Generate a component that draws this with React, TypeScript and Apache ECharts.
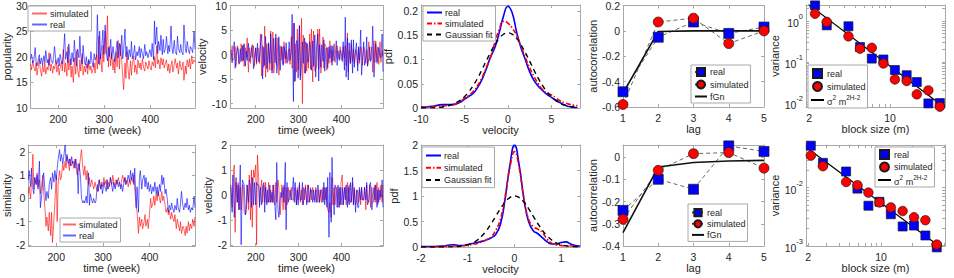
import React, { useEffect, useRef } from 'react';
import * as echarts from 'echarts';

// ---------------- data ----------------
// week of each sample (151 samples spanning weeks 140..497)
const weeks: number[] = [];
for (let i = 0; i <= 150; i++) weeks.push(Math.round(140 + i * 2.38));

const popReal = [19.5,20.5,18.8,19.2,21.8,19.0,18.2,19.6,20.4,18.6,
 19.8,18.4,20.2,19.0,21.2,18.8,19.5,18.3,20.6,19.2,
 18.7,20.0,22.0,19.1,18.5,19.8,18.2,20.5,19.0,18.6,
 20.4,24.5,19.5,21.0,18.8,22.5,19.6,18.4,20.8,19.0,
 23.2,19.4,18.2,21.5,19.8,24.0,20.2,18.6,22.2,19.0,
 18.4,20.0,17.8,19.5,18.6,21.0,19.2,18.0,20.6,19.4,
 20.0,28.2,18.6,25.0,19.6,22.4,25.2,20.4,26.2,21.0,
 19.2,21.8,20.0,23.4,19.6,22.0,20.4,19.0,21.6,23.0,
 19.8,22.6,20.2,24.2,19.6,21.2,25.4,20.0,22.0,19.4,
 21.4,20.0,23.0,19.6,20.8,22.2,19.4,21.0,20.2,22.0,
 19.8,21.6,20.4,19.6,22.4,20.2,21.0,19.8,20.6,21.4,
 20.0,22.6,19.4,27.0,22.4,25.8,20.6,23.0,21.2,24.2,
 20.4,23.4,20.8,21.6,24.0,20.6,22.2,21.0,26.0,21.8,
 20.6,23.2,21.0,20.4,24.0,21.6,20.8,22.4,21.0,20.4,
 26.2,21.6,20.8,23.0,21.2,20.6,22.0,21.4,20.8,25.0,
 21.5];

const popSim = [18.6,17.4,19.2,18.0,17.2,18.8,16.4,18.2,19.6,17.6,
 16.2,18.4,17.0,19.0,16.6,18.0,17.4,20.8,17.2,18.6,
 16.8,18.2,17.6,19.4,17.0,18.4,16.4,17.8,19.0,17.2,
 21.4,17.0,18.8,16.2,22.0,17.4,19.6,16.0,18.2,15.0,
 19.8,16.6,21.2,17.4,16.0,19.4,17.2,20.6,16.4,18.2,
 17.0,18.6,16.6,19.2,17.4,18.2,16.8,17.6,18.8,16.8,
 20.4,17.6,24.0,18.4,20.6,17.0,22.2,19.0,25.0,20.6,
 28.0,18.0,22.0,18.2,20.8,17.4,19.6,16.8,21.0,18.0,
 23.2,17.6,22.4,19.0,16.2,13.6,18.8,15.8,21.0,17.2,
 15.6,19.2,16.4,18.6,20.2,17.0,18.4,16.6,19.4,17.8,
 18.8,17.4,19.6,18.0,17.2,19.0,18.4,17.6,19.2,18.2,
 17.4,19.0,18.2,20.0,17.8,22.2,18.6,19.4,17.6,19.8,
 18.4,19.6,17.8,18.8,19.4,17.2,18.6,16.8,18.4,19.2,
 17.0,18.6,19.6,17.8,18.8,16.6,19.2,18.0,17.4,19.0,
 15.4,18.2,16.6,19.4,18.0,19.6,17.6,20.2,18.6,19.4,
 19.0];

const simReal = [0.8,1.2,0.5,1.3,0.4,0.2,0.9,0.6,1.0,0.4,
 1.6,-0.4,0.2,0.7,1.1,0.3,-0.1,0.3,0.0,0.6,
 0.9,0.4,1.1,0.7,1.2,0.8,1.3,1.7,2.1,1.6,
 1.9,1.5,1.8,2.3,1.6,1.9,1.5,1.7,1.4,1.8,
 1.5,1.6,1.3,1.7,1.2,0.2,1.5,0.9,0.0,-0.2,
 -0.1,-0.2,0.1,-0.2,1.1,-0.3,0.2,-0.1,-0.2,0.0,
 -0.2,-0.1,0.6,0.3,0.8,0.4,0.6,0.2,0.7,0.5,
 0.3,0.8,0.4,0.6,0.9,0.5,0.3,0.7,0.4,0.6,
 0.8,0.5,0.7,0.4,0.6,0.3,0.7,0.9,0.6,0.8,
 1.0,0.7,1.2,0.8,1.1,0.6,1.3,-0.4,0.5,-0.6,
 0.9,1.2,0.4,0.8,1.0,0.5,0.9,0.4,0.7,0.3,
 0.6,0.2,0.5,0.3,0.7,0.2,0.5,0.1,0.6,0.3,
 1.0,0.6,0.9,0.2,0.4,-0.1,-0.6,-0.3,-0.5,-0.2,
 -0.4,-0.6,-0.3,-0.5,0.0,-0.4,-0.6,-0.2,0.3,-0.3,
 -0.5,-0.2,-0.4,0.0,-0.5,-0.3,-0.6,-0.4,-0.5,0.1,
 -0.4];

const simSim = [0.2,0.5,0.0,0.7,1.9,0.4,0.9,0.6,1.1,0.5,
 0.8,0.2,0.6,1.0,0.3,-0.5,-1.2,-0.8,-1.4,-0.6,
 -1.6,-0.6,-1.9,-0.9,-0.2,1.0,-1.0,0.6,1.2,0.8,
 0.9,1.5,1.2,1.6,1.3,1.8,1.5,1.2,1.7,1.4,
 1.6,1.3,1.7,1.4,1.0,1.5,1.2,1.8,2.1,1.3,
 1.0,1.4,0.8,1.2,0.6,0.9,0.5,0.8,0.6,0.4,
 0.7,0.5,0.3,0.6,0.8,0.4,0.7,0.5,0.9,0.6,
 0.8,0.4,0.7,0.5,0.9,0.6,1.0,0.7,0.5,0.8,
 0.6,0.9,0.7,0.5,0.8,1.0,0.7,0.9,0.6,0.8,
 0.5,0.8,0.6,0.9,0.7,1.0,0.4,-0.3,-0.6,-1.5,
 -0.8,-1.2,-0.9,-1.3,-1.0,-0.7,-1.2,-0.9,-1.3,-0.8,
 0.0,-0.4,-0.2,0.1,-0.3,0.2,-0.1,0.3,0.0,-0.2,
 0.3,-0.1,0.1,-0.3,-0.6,-0.4,-0.7,-0.5,-0.9,-0.6,
 -0.8,-1.0,-0.7,-1.3,-0.9,-1.1,-1.4,-1.0,-1.5,-1.2,
 -1.3,-1.6,-1.2,-1.5,-1.0,-1.4,-1.1,-1.3,-0.9,-1.2,
 -0.8];

// pdf of popularity velocity
const pdfX1 = [-10,-9.5,-9,-8.5,-8,-7.5,-7,-6.5,-6,-5.5,-5,-4.5,-4,-3.5,-3,-2.5,-2,-1.5,-1,-0.5,0,0.5,1,1.5,2,2.5,3,3.5,4,4.5,5,5.5,6,6.5,7,7.5,8];
const pdfReal1 = [0.002,0.002,0.003,0.004,0.006,0.007,0.007,0.007,0.008,0.012,0.018,0.024,0.03,0.042,0.058,0.08,0.105,0.125,0.155,0.19,0.21,0.196,0.157,0.125,0.1,0.075,0.057,0.045,0.036,0.028,0.022,0.016,0.011,0.006,0.003,0.0015,0.0008];
const pdfSim1 = [0.001,0.0015,0.002,0.003,0.004,0.0045,0.005,0.006,0.009,0.013,0.02,0.026,0.034,0.046,0.062,0.083,0.105,0.135,0.162,0.179,0.175,0.165,0.15,0.128,0.105,0.083,0.065,0.05,0.038,0.031,0.027,0.021,0.015,0.011,0.008,0.006,0.005];
const pdfGauss1 = [0.0001,0.0002,0.0003,0.0006,0.0012,0.0022,0.0038,0.0063,0.0101,0.0157,0.0233,0.0334,0.0461,0.0611,0.0784,0.0967,0.1145,0.1307,0.1437,0.1521,0.155,0.1521,0.1437,0.1307,0.1145,0.0967,0.0784,0.0611,0.0461,0.0334,0.0233,0.0157,0.0101,0.0063,0.0038,0.0022,0.0012];

// pdf of similarity velocity
const pdfX2 = [-2,-1.9,-1.8,-1.7,-1.6,-1.5,-1.4,-1.3,-1.2,-1.1,-1,-0.9,-0.8,-0.7,-0.6,-0.5,-0.4,-0.3,-0.2,-0.1,0,0.1,0.2,0.3,0.4,0.5,0.6,0.7,0.8,0.9,1,1.1,1.2,1.3,1.4];
const pdfReal2 = [0.01,0.01,0.01,0.01,0.015,0.02,0.04,0.045,0.03,0.03,0.05,0.07,0.09,0.11,0.14,0.18,0.25,0.45,0.95,1.6,2.0,1.6,0.95,0.5,0.32,0.26,0.18,0.1,0.06,0.06,0.09,0.1,0.06,0.03,0.02];
const pdfSim2 = [0.005,0.005,0.005,0.006,0.008,0.01,0.015,0.02,0.02,0.025,0.035,0.05,0.07,0.1,0.14,0.2,0.33,0.55,1.0,1.55,1.87,1.55,0.95,0.55,0.4,0.35,0.28,0.15,0.07,0.04,0.03,0.02,0.02,0.015,0.01];
const pdfGauss2 = [0,0,0,0,0,0.001,0.002,0.005,0.011,0.022,0.043,0.078,0.133,0.214,0.322,0.456,0.604,0.754,0.882,0.969,1.0,0.969,0.882,0.754,0.604,0.456,0.322,0.214,0.133,0.078,0.043,0.022,0.011,0.005,0.002];

// autocorrelation
const lags = [1,2,3,4,5];
const acReal1 = [-0.48,-0.05,0.07,-0.02,0.03];
const acSim1 = [-0.58,0.07,0.10,-0.10,0.0];
const acFgn1 = [-0.49,-0.005,0.0,0.0,0.0];
const acReal2 = [-0.24,-0.10,-0.145,0.05,0.025];
const acSim2 = [-0.28,-0.06,0.015,0.02,-0.05];
const acFgn2 = [-0.34,-0.045,-0.025,-0.018,-0.015];

// aggregated variance (block size m, variance)
const blk1 = [2.25,2.84,4.37,5.5,6.95,8.75,11.0,13.9,17.0,21.4,26.9];
const varReal1 = [2.4,0.78,0.74,0.23,0.12,0.114,0.063,0.047,0.032,0.0096,0.0098];
const varSim1 = [1.5,0.95,0.42,0.21,0.22,0.091,0.037,0.034,0.016,0.02,0.008];
const fitM1 = [1.97,28.4];
const fitV1 = [2.55,0.0083];
const blk2 = [2.12,2.77,4.62,5.93,7.56,9.65,12.4,16.1,20.7,26.6,34.2];
const varReal2 = [0.0532,0.0268,0.019,0.0096,0.00485,0.00568,0.00345,0.00212,0.0022,0.00148,0.00092];
const varSim2 = [0.0358,0.0235,0.0125,0.011,0.0082,0.00553,0.00454,0.00393,0.00306,0.00272,0.00103];
const fitM2 = [1.91,38];
const fitV2 = [0.0498,0.0009];

// ---------------- styling helpers ----------------
const FONT = '"Liberation Sans", Arial, Helvetica, sans-serif';
const AX = '#a8a8a8';
const TXT = '#262626';
const TICK_FS = 10.5;

const L10 = (v: number) => Math.log10(v);
const fmtNum = (v: number) => String(Math.round(v * 1000) / 1000);
const fmtPow = (v: number) => '{b|10}{s|' + Math.round(v) + '}';
const fmtInt = (v: number) => String(Math.round(Math.pow(10, v)));
const richPow = {
  b: { fontSize: TICK_FS, fontFamily: FONT, color: TXT, lineHeight: 16, verticalAlign: 'bottom' },
  s: { fontSize: 7.5, fontFamily: FONT, color: TXT, lineHeight: 16, verticalAlign: 'top' },
};

function minorLog(lo: number, hi: number, skip: number[]) {
  const out: number[] = [];
  for (let d = -4; d <= 2; d++) {
    for (let k = 1; k <= 9; k++) {
      const v = Math.log10(k * Math.pow(10, d));
      if (v >= lo && v <= hi && !skip.some((s) => Math.abs(s - v) < 1e-6)) out.push(v);
    }
  }
  return out;
}

type Panel = {
  left: number; top: number; width: number; height: number;
  xMin: number; xMax: number; xT: number[]; xMinor?: number[]; xFmt?: (v: number) => string;
  yMin: number; yMax: number; yT: number[]; yMinor?: number[]; yFmt?: (v: number) => string; yRich?: any;
  xName: string; yName: string; xGap: number; yGap: number;
};

const TOP = 5, BOT = 145;
const T0 = 140, T1 = 497;
const logX1: [number, number] = [0.274, 1.474];
const logY1: [number, number] = [-2.105, 0.39];
const logX2: [number, number] = [0.28, 1.613];
const logY2: [number, number] = [-3.012, -1.262];

const panels: Panel[] = [
  { left: 28, top: TOP, width: 167, height: 103, xMin: T0, xMax: T1, xT: [200, 300, 400], yMin: 10, yMax: 30, yT: [10, 15, 20, 25, 30], xName: 'time (week)', yName: 'popularity', xGap: 12, yGap: 16 },
  { left: 230, top: TOP, width: 153, height: 103, xMin: T0, xMax: T1, xT: [200, 300, 400], yMin: -10.9, yMax: 10, yT: [-10, -5, 0, 5, 10], xName: 'time (week)', yName: 'velocity', xGap: 12, yGap: 16 },
  { left: 421, top: TOP, width: 159, height: 103, xMin: -10, xMax: 8.3, xT: [-10, -5, 0, 5], yMin: 0, yMax: 0.2125, yT: [0, 0.05, 0.1, 0.15, 0.2], xName: 'velocity', yName: 'pdf', xGap: 13, yGap: 24 },
  { left: 623, top: TOP, width: 141, height: 102, xMin: 1, xMax: 5, xT: [1, 2, 3, 4, 5], yMin: -0.6, yMax: 0.2, yT: [-0.6, -0.4, -0.2, 0, 0.2], xName: 'lag', yName: 'autocorrelation', xGap: 14, yGap: 25 },
  { left: 806, top: TOP, width: 139, height: 102, xMin: logX1[0], xMax: logX1[1], xT: [L10(2), 1], xMinor: minorLog(logX1[0], logX1[1], [L10(2), 1]), xFmt: fmtInt, yMin: logY1[0], yMax: logY1[1], yT: [-2, -1, 0], yMinor: minorLog(logY1[0], logY1[1], [-2, -1, 0]), yFmt: fmtPow, yRich: richPow, xName: 'block size (m)', yName: 'variance', xGap: 12, yGap: 26 },
  { left: 28, top: BOT, width: 167, height: 101, xMin: T0, xMax: T1, xT: [200, 300, 400], yMin: -2.05, yMax: 2.3, yT: [-2, -1, 0, 1, 2], xName: 'time (week)', yName: 'similarity', xGap: 13, yGap: 16 },
  { left: 230, top: BOT, width: 153, height: 101, xMin: T0, xMax: T1, xT: [200, 300, 400], yMin: -2.05, yMax: 2, yT: [-2, -1, 0, 1, 2], xName: 'time (week)', yName: 'velocity', xGap: 13, yGap: 16 },
  { left: 421, top: BOT, width: 159, height: 102, xMin: -2, xMax: 1.4, xT: [-2, -1, 0, 1], yMin: 0, yMax: 2, yT: [0, 0.5, 1, 1.5, 2], xName: 'velocity', yName: 'pdf', xGap: 13, yGap: 16 },
  { left: 623, top: BOT, width: 141, height: 101, xMin: 1, xMax: 5, xT: [1, 2, 3, 4, 5], yMin: -0.4, yMax: 0.054, yT: [-0.4, -0.3, -0.2, -0.1, 0], xName: 'lag', yName: 'autocorrelation', xGap: 15, yGap: 25 },
  { left: 806, top: BOT, width: 139, height: 101, xMin: logX2[0], xMax: logX2[1], xT: [L10(2), 1], xMinor: minorLog(logX2[0], logX2[1], [L10(2), 1]), xFmt: fmtInt, yMin: logY2[0], yMax: logY2[1], yT: [-3, -2], yMinor: minorLog(logY2[0], logY2[1], [-3, -2]), yFmt: fmtPow, yRich: richPow, xName: 'block size (m)', yName: 'variance', xGap: 12, yGap: 25 },
];

function axis(p: Panel, gi: number, isX: boolean, mirror: boolean): any {
  const min = isX ? p.xMin : p.yMin;
  const max = isX ? p.xMax : p.yMax;
  const major = isX ? p.xT : p.yT;
  const minor = (isX ? p.xMinor : p.yMinor) || [];
  const fmt = (isX ? p.xFmt : p.yFmt) || fmtNum;
  return {
    type: 'value',
    gridIndex: gi,
    position: isX ? (mirror ? 'top' : 'bottom') : (mirror ? 'right' : 'left'),
    min, max,
    axisLine: { show: true, onZero: false, lineStyle: { color: AX, width: 1 } },
    axisTick: { show: true, inside: true, length: 3, customValues: major.concat(minor), lineStyle: { color: AX, width: 1 } },
    axisLabel: {
      show: !mirror, customValues: major, formatter: fmt, color: TXT, fontSize: TICK_FS, fontFamily: FONT,
      margin: isX ? 5 : 3, lineHeight: 11, rich: isX ? undefined : p.yRich,
    },
    splitLine: { show: false },
    name: mirror ? '' : (isX ? p.xName : p.yName),
    nameLocation: 'middle',
    nameGap: isX ? p.xGap : p.yGap,
    nameTextStyle: { color: TXT, fontSize: 11, fontFamily: FONT },
  };
}

const RED = '#ff0000';
const BLUE = '#0000ff';

function lineS(gi: number, name: string, xs: number[], ys: number[], o: any = {}): any {
  return {
    type: 'line', name, xAxisIndex: 2 * gi, yAxisIndex: 2 * gi,
    data: xs.map((x, k) => [x, ys[k]]),
    symbol: o.symbol || 'none', symbolSize: o.symbolSize || 0, showSymbol: !!o.symbol,
    smooth: !!o.smooth, clip: true, silent: true,
    lineStyle: { color: o.color, width: o.width || 1, type: o.type || 'solid', opacity: o.opacity == null ? 1 : o.opacity },
    itemStyle: o.itemStyle || { color: o.color, opacity: o.opacity == null ? 1 : o.opacity },
    z: o.z || 2,
  };
}

function scatterS(gi: number, name: string, xs: number[], ys: number[], symbol: string, color: string, size: number): any {
  return {
    type: 'scatter', name, xAxisIndex: 2 * gi, yAxisIndex: 2 * gi,
    data: xs.map((x, k) => [Math.log10(x), Math.log10(ys[k])]),
    symbol, symbolSize: size, symbolKeepAspect: true, clip: false, silent: true,
    itemStyle: { color, borderColor: '#1a1a1a', borderWidth: 0.7, opacity: 1 },
  };
}

const velWeeks = weeks.slice(1);
const velPopReal = popReal.slice(1).map((v, i) => +(v - popReal[i]).toFixed(2));
const velPopSim = popSim.slice(1).map((v, i) => +(v - popSim[i]).toFixed(2));
const velSimReal = simReal.slice(1).map((v, i) => +(v - simReal[i]).toFixed(2));
const velSimSim = simSim.slice(1).map((v, i) => +(v - simSim[i]).toFixed(2));

const LABELS: Record<string, string> = {};
function nm(id: string, label: string) { LABELS[id] = label; return id; }

const markerReal = { color: BLUE, borderColor: '#1a1a1a', borderWidth: 0.7 };
const markerSim = { color: RED, borderColor: '#1a1a1a', borderWidth: 0.7 };
const SIGMA = '{t|σ}{s|2}{t| m}{s|2H-2}';

const series: any[] = [
  lineS(0, nm('p0s', 'simulated'), weeks, popSim, { color: RED, opacity: 0.6 }),
  lineS(0, nm('p0r', 'real'), weeks, popReal, { color: BLUE, opacity: 0.6 }),
  lineS(1, nm('p1s', 'simulated'), velWeeks, velPopSim, { color: RED, opacity: 0.6 }),
  lineS(1, nm('p1r', 'real'), velWeeks, velPopReal, { color: BLUE, opacity: 0.6 }),
  lineS(2, nm('p2r', 'real'), pdfX1, pdfReal1, { color: BLUE, width: 1.6, smooth: true }),
  lineS(2, nm('p2s', 'simulated'), pdfX1, pdfSim1, { color: RED, width: 1.6, smooth: true, type: [5, 2, 1.5, 2] }),
  lineS(2, nm('p2g', 'Gaussian fit'), pdfX1, pdfGauss1, { color: '#000000', width: 1.4, smooth: true, type: [5, 4] }),
  lineS(3, nm('p3r', 'real'), lags, acReal1, { color: '#404040', width: 0.8, type: [4, 3], symbol: 'rect', symbolSize: 10, itemStyle: markerReal }),
  lineS(3, nm('p3s', 'simulated'), lags, acSim1, { color: '#404040', width: 0.8, type: [4, 3], symbol: 'circle', symbolSize: 10, itemStyle: markerSim }),
  lineS(3, nm('p3f', 'fGn'), lags, acFgn1, { color: '#111111', width: 1.6 }),
  scatterS(4, nm('p4r', 'real'), blk1, varReal1, 'rect', BLUE, 9),
  scatterS(4, nm('p4s', 'simulated'), blk1, varSim1, 'circle', RED, 9.5),
  lineS(4, nm('p4f', SIGMA), fitM1.map(L10), fitV1.map(L10), { color: '#000000', width: 1.2 }),
  lineS(5, nm('p5s', 'simulated'), weeks, simSim, { color: RED, opacity: 0.6 }),
  lineS(5, nm('p5r', 'real'), weeks, simReal, { color: BLUE, opacity: 0.6 }),
  lineS(6, nm('p6s', 'simulated'), velWeeks, velSimSim, { color: RED, opacity: 0.6 }),
  lineS(6, nm('p6r', 'real'), velWeeks, velSimReal, { color: BLUE, opacity: 0.6 }),
  lineS(7, nm('p7r', 'real'), pdfX2, pdfReal2, { color: BLUE, width: 1.6, smooth: true }),
  lineS(7, nm('p7s', 'simulated'), pdfX2, pdfSim2, { color: RED, width: 1.6, smooth: true, type: [5, 2, 1.5, 2] }),
  lineS(7, nm('p7g', 'Gaussian fit'), pdfX2, pdfGauss2, { color: '#000000', width: 1.4, smooth: true, type: [5, 4] }),
  lineS(8, nm('p8r', 'real'), lags, acReal2, { color: '#404040', width: 0.8, type: [4, 3], symbol: 'rect', symbolSize: 10, itemStyle: markerReal }),
  lineS(8, nm('p8s', 'simulated'), lags, acSim2, { color: '#404040', width: 0.8, type: [4, 3], symbol: 'circle', symbolSize: 10, itemStyle: markerSim }),
  lineS(8, nm('p8f', 'fGn'), lags, acFgn2, { color: '#111111', width: 1.6 }),
  scatterS(9, nm('p9r', 'real'), blk2, varReal2, 'rect', BLUE, 9),
  scatterS(9, nm('p9s', 'simulated'), blk2, varSim2, 'circle', RED, 9.5),
  lineS(9, nm('p9f', SIGMA), fitM2.map(L10), fitV2.map(L10), { color: '#000000', width: 1.2 }),
];

// legend entries: line-only entries hide the default symbol
const lineOnly = (id: string) => ({ name: id, itemStyle: { opacity: 0, borderWidth: 0 } });
const withMark = (id: string) => ({ name: id });
const squareMark = (id: string) => ({ name: id, icon: 'path://M0,0L10,0L10,10L0,10Z' });

function legend(items: any[], left: number, top: number, o: any = {}): any {
  return {
    show: true, orient: 'vertical', left, top, data: items, selectedMode: false,
    formatter: (n: string) => LABELS[n] || n,
    itemWidth: o.itemWidth || 15, itemHeight: o.itemHeight || 9, itemGap: o.itemGap == null ? 2 : o.itemGap,
    padding: o.padding || [3, 3, 2, 3], symbolKeepAspect: true,
    borderColor: AX, borderWidth: 1, backgroundColor: '#ffffff', borderRadius: 0,
    textStyle: {
      color: TXT, fontSize: 9, fontFamily: FONT, padding: [0, 0, 0, -2],
      rich: {
        t: { fontSize: 9, fontFamily: FONT, color: TXT, lineHeight: 12, verticalAlign: 'bottom' },
        s: { fontSize: 6.5, fontFamily: FONT, color: TXT, lineHeight: 12, verticalAlign: 'top' },
      },
    },
  };
}

const legends = [
  legend([lineOnly('p0s'), lineOnly('p0r')], 28, 6, { itemWidth: 15 }),
  legend([lineOnly('p2r'), lineOnly('p2s'), lineOnly('p2g')], 423, 6, { itemWidth: 15, padding: [2, 3, 2, 3] }),
  legend([withMark('p3r'), withMark('p3s'), lineOnly('p3f')], 691, 65, { itemWidth: 12, itemHeight: 10, itemGap: 2.5, padding: [2, 2, 2, 3] }),
  legend([squareMark('p4r'), withMark('p4s'), lineOnly('p4f')], 808, 65, { itemWidth: 13, padding: [3, 2, 2, 2] }),
  legend([lineOnly('p5s'), lineOnly('p5r')], 60, 218, { itemWidth: 13, padding: [2, 3, 2, 2] }),
  legend([lineOnly('p7r'), lineOnly('p7s'), lineOnly('p7g')], 422, 147, { itemWidth: 15, itemGap: 3.3, padding: [4, 3, 3, 3] }),
  legend([withMark('p8r'), withMark('p8s'), lineOnly('p8f')], 688, 204, { itemWidth: 12, itemGap: 2, padding: [4, 2, 2, 3] }),
  legend([squareMark('p9r'), withMark('p9s'), lineOnly('p9f')], 875, 147, { itemWidth: 13, itemGap: 1.5, padding: [2, 2, 1, 2] }),
];

export default function App() {
  const ref = useRef<HTMLDivElement>(null);
  useEffect(() => {
    document.body.style.margin = '0';
    if (!ref.current) return;
    const chart = echarts.init(ref.current, undefined, { renderer: 'svg' });
    const grid = panels.map((p) => ({ left: p.left, top: p.top, width: p.width, height: p.height, containLabel: false, show: false }));
    const xAxis: any[] = [];
    const yAxis: any[] = [];
    panels.forEach((p, gi) => {
      xAxis.push(axis(p, gi, true, false));
      xAxis.push(axis(p, gi, true, true));
      yAxis.push(axis(p, gi, false, false));
      yAxis.push(axis(p, gi, false, true));
    });
    chart.setOption({
      animation: false,
      backgroundColor: '#ffffff',
      textStyle: { fontFamily: FONT },
      grid, xAxis, yAxis, series, legend: legends,
    });
    return () => chart.dispose();
  }, []);
  return <div ref={ref} style={{ position: 'absolute', left: 0, top: 0, width: 954, height: 278 }} />;
}
